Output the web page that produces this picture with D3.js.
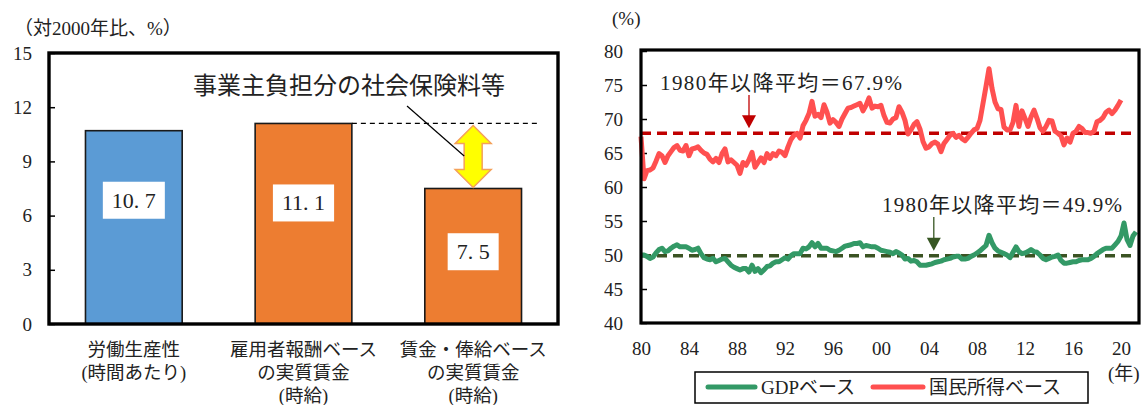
<!DOCTYPE html>
<html>
<head>
<meta charset="utf-8">
<script src="https://cdn.jsdelivr.net/npm/d3@7"></script>
<style>
  html, body { margin: 0; padding: 0; background: #fff; }
  svg { display: block; }
  text { font-family: "Liberation Serif", "DejaVu Serif", "Noto Sans CJK JP", serif; fill: #222; }
</style>
</head>
<body>
<svg id="chart" width="1145" height="405"></svg>
<script>
// ---- Left panel: growth since 2000 (%) ----
const barCategories = [
  ["労働生産性", "(時間あたり)"],
  ["雇用者報酬ベース", "の実質賃金", "(時給)"],
  ["賃金・俸給ベース", "の実質賃金", "(時給)"]
];
const barValues = [10.7, 11.1, 7.5];
const barColors = ["#5B9BD5", "#ED7D31", "#ED7D31"];
const barTicks = [0, 3, 6, 9, 12, 15];
const barTitle = "（対2000年比、%）";
const gapNote = "事業主負担分の社会保険料等";

// ---- Right panel: labour share (%), quarterly from 1980Q1 ----
const startYear = 1980;
const gdpShare = [
  50.0, 50.0, 49.8, 49.5, 49.7, 50.3, 50.8, 51.0, 50.5, 50.6, 51.0, 51.3, 51.5, 51.2, 51.2, 51.2,
  51.0, 50.7, 50.8, 51.0, 50.2, 49.6, 49.4, 49.3, 49.5, 49.0, 49.2, 49.4, 49.5, 49.0, 48.5, 48.2,
  48.0, 47.8, 48.0, 48.0, 47.5, 48.5, 47.6, 48.0, 47.4, 47.8, 48.3, 48.4, 48.8, 49.0, 49.0, 49.3,
  49.6, 49.4, 49.9, 50.2, 50.2, 50.2, 51.0, 50.9, 51.2, 51.8, 51.2, 51.7, 51.0, 51.0, 51.0, 50.7,
  50.6, 50.5, 50.7, 51.0, 51.3, 51.4, 51.5, 51.7, 51.7, 51.8, 51.2, 51.4, 51.3, 51.2, 51.2, 51.0,
  50.7, 50.6, 50.5, 50.4, 50.2, 50.5, 50.3, 50.0, 49.4, 49.5, 49.1, 49.2, 49.0, 48.5, 48.5, 48.5,
  48.6, 48.7, 48.9, 49.0, 49.1, 49.3, 49.4, 49.5, 49.7, 49.8, 49.8, 49.4, 49.4, 49.5, 49.8, 50.0,
  50.3, 50.6, 51.0, 51.4, 52.9, 51.8, 51.0, 50.6, 50.4, 50.2, 50.0, 49.6, 50.4, 51.2, 50.5, 50.2,
  50.3, 50.5, 50.8, 50.5, 50.4, 50.0, 49.5, 49.3, 49.5, 49.7, 49.8, 50.0, 49.2, 48.8, 48.8, 48.9,
  49.0, 49.0, 49.2, 49.3, 49.3, 49.3, 49.5, 49.8, 50.2, 50.5, 50.8, 51.0, 51.0, 51.0, 51.5, 52.0,
  52.8, 54.7, 52.3, 51.4, 52.8, 53.4
];
const niShare = [
  67.4, 61.2, 62.4, 62.5, 62.8, 63.8, 64.9, 64.6, 63.6, 64.6, 65.2, 65.8, 66.1, 65.4, 65.3, 66.1,
  64.6, 65.6, 65.7, 65.9, 65.4, 65.0, 64.8, 64.1, 63.7, 64.2, 63.6, 64.9, 65.6, 63.7, 64.0, 63.6,
  63.2, 62.0, 63.6, 63.2, 64.0, 65.1, 62.9, 63.6, 64.3, 63.6, 64.9, 64.2, 64.9, 64.6, 65.3, 65.1,
  64.6, 65.9, 67.0, 67.6, 67.9, 67.2, 69.0, 69.8, 70.8, 72.6, 70.4, 70.7, 70.2, 72.1, 71.0, 69.4,
  69.9, 69.5, 68.9, 70.0, 70.8, 71.6, 71.7, 71.9, 72.1, 72.3, 71.2, 72.0, 73.1, 71.6, 71.9, 71.8,
  72.0, 70.5, 69.5, 69.4, 70.0, 70.2, 71.8, 71.0, 69.8, 67.8, 68.4, 69.2, 69.6, 68.5, 66.7, 65.7,
  65.9, 66.4, 66.6, 66.3, 65.2, 66.4, 67.0, 67.6, 67.9, 67.3, 67.6, 67.1, 66.8, 67.3, 67.9, 68.4,
  68.6, 69.8, 72.3, 74.8, 77.4, 74.5, 72.5, 71.5, 71.4, 68.8, 68.4, 68.4, 69.5, 72.0, 68.9, 71.2,
  70.1, 68.9, 70.3, 71.3, 70.1, 68.7, 68.2, 68.9, 69.8, 69.7, 68.2, 67.9, 67.5, 66.2, 67.2, 66.6,
  67.9, 68.2, 68.9, 68.6, 68.0, 68.0, 67.9, 68.2, 69.6, 69.8, 70.2, 71.0, 71.3, 70.8, 71.3, 72.0,
  72.8
];
const gdpMean = 49.9;
const niMean = 67.9;
const lineTicksY = [40, 45, 50, 55, 60, 65, 70, 75, 80];
const lineTicksX = [1980, 1984, 1988, 1992, 1996, 2000, 2004, 2008, 2012, 2016, 2020];
const seriesNames = ["GDPベース", "国民所得ベース"];
const meanLabel = v => "1980年以降平均＝" + v.toFixed(1) + "%";

const svg = d3.select("#chart");
const SERIF = '"Liberation Serif", "DejaVu Serif", "Noto Sans CJK JP", serif';

// ================= Left panel =================
const L = { left: 49, right: 558, top: 53, bottom: 324 };
const xb = d3.scaleBand().domain(d3.range(barValues.length))
  .range([L.left, L.right]).paddingInner(0.43).paddingOuter(0.215);
const yb = d3.scaleLinear().domain([0, 15]).range([L.bottom, L.top]);

const gL = svg.append("g");

gL.append("g")
  .attr("transform", `translate(${L.left},0)`)
  .call(d3.axisLeft(yb).tickValues(barTicks).tickSize(-6).tickPadding(17))
  .call(g => g.select(".domain").remove())
  .call(g => g.selectAll(".tick line").attr("stroke", "#000").attr("stroke-width", 1.5))
  .call(g => g.selectAll(".tick text").attr("font-family", SERIF).attr("font-size", 19).attr("fill", "#222"));

gL.append("text")
  .attr("x", 14).attr("y", 28)
  .attr("dominant-baseline", "central")
  .attr("font-size", 19)
  .text(barTitle);

// bars
gL.selectAll("rect.bar").data(barValues).join("rect")
  .attr("class", "bar")
  .attr("x", (d, i) => xb(i))
  .attr("width", xb.bandwidth())
  .attr("y", d => yb(d))
  .attr("height", d => yb(0) - yb(d))
  .attr("fill", (d, i) => barColors[i])
  .attr("stroke", "#1a1a1a").attr("stroke-width", 1.6);

// value labels on white boxes
const labelAnchor = [6.85, 6.7, 4.0];
const lab = gL.selectAll("g.vlab").data(barValues).join("g").attr("class", "vlab");
lab.append("rect").attr("fill", "#fff");
lab.append("text")
  .attr("x", (d, i) => xb(i) + xb.bandwidth() / 2)
  .attr("y", (d, i) => yb(labelAnchor[i]))
  .attr("text-anchor", "middle")
  .attr("dominant-baseline", "central")
  .attr("font-size", 22)
  .text(d => d3.format(".1f")(d).replace(".", ". "));
lab.each(function () {
  const t = d3.select(this).select("text").node().getBBox();
  d3.select(this).select("rect")
    .attr("x", t.x - 9).attr("width", t.width + 18)
    .attr("y", t.y + t.height / 2 - 18.5).attr("height", 37);
});

// dashed reference from second bar top
gL.append("line")
  .attr("x1", xb(1) + xb.bandwidth()).attr("x2", 540)
  .attr("y1", yb(barValues[1])).attr("y2", yb(barValues[1]))
  .attr("stroke", "#000").attr("stroke-width", 1.2).attr("stroke-dasharray", "5,4");

// yellow double arrow for the gap between bar 2 and bar 3
{
  const cx = xb(2) + xb.bandwidth() / 2;
  const yt = yb(barValues[1]) + 2, ybt = yb(barValues[2]) - 1;
  const hw = 18, sw = 9, hl = 18;
  const p = [
    [cx, yt], [cx + hw, yt + hl], [cx + sw, yt + hl], [cx + sw, ybt - hl], [cx + hw, ybt - hl],
    [cx, ybt], [cx - hw, ybt - hl], [cx - sw, ybt - hl], [cx - sw, yt + hl], [cx - hw, yt + hl]
  ];
  gL.append("path").attr("d", d3.line()(p) + "Z")
    .attr("fill", "#FFFF00").attr("stroke", "#F4A15A").attr("stroke-width", 1.5)
    .attr("stroke-linejoin", "miter");
  // leader line to the note
  gL.append("line")
    .attr("x1", 407).attr("y1", 106).attr("x2", cx - sw).attr("y2", 156)
    .attr("stroke", "#000").attr("stroke-width", 1.2);
}

gL.append("text")
  .attr("x", 193).attr("y", 86)
  .attr("dominant-baseline", "central")
  .attr("font-size", 24).attr("fill", "#333")
  .text(gapNote);

// frame
gL.append("rect")
  .attr("x", L.left).attr("y", L.top)
  .attr("width", L.right - L.left).attr("height", L.bottom - L.top)
  .attr("fill", "none").attr("stroke", "#000").attr("stroke-width", 3.4);

// category labels
barCategories.forEach((lines, i) => {
  const t = gL.append("text")
    .attr("text-anchor", "middle").attr("font-size", 18.5).attr("fill", "#333");
  lines.forEach((s, k) => {
    t.append("tspan")
      .attr("x", xb(i) + xb.bandwidth() / 2)
      .attr("y", 350 + k * 23)
      .attr("dominant-baseline", "central")
      .text(s);
  });
});

// ================= Right panel =================
const R = { left: 641, right: 1139, top: 50, bottom: 323 };
const xt = d3.scaleLinear().domain([1980, 2021.5]).range([R.left, R.right]);
const yt = d3.scaleLinear().domain([40, 80]).range([R.bottom, 51]);
const gR = svg.append("g");

gR.append("g")
  .attr("transform", `translate(${R.left},0)`)
  .call(d3.axisLeft(yt).tickValues(lineTicksY).tickSize(-6).tickPadding(18))
  .call(g => g.select(".domain").remove())
  .call(g => g.selectAll(".tick line").attr("stroke", "#000").attr("stroke-width", 1.5))
  .call(g => g.selectAll(".tick text").attr("font-family", SERIF).attr("font-size", 19).attr("fill", "#222"));

gR.append("g")
  .attr("transform", `translate(0,${R.bottom})`)
  .call(d3.axisBottom(xt).tickValues(lineTicksX).tickSize(0).tickFormat(d => d3.format("02d")(d % 100)))
  .call(g => g.select(".domain").remove())
  .call(g => g.selectAll(".tick text")
    .attr("font-family", SERIF).attr("font-size", 19).attr("fill", "#222")
    .attr("y", 25).attr("dy", null).attr("dominant-baseline", "central"));

gR.append("text").attr("x", 612).attr("y", 18)
  .attr("dominant-baseline", "central").attr("font-size", 19).text("(%)");
gR.append("text").attr("x", 1108).attr("y", 373)
  .attr("dominant-baseline", "central").attr("font-size", 19).text("(年)");

const qx = (d, i) => xt(startYear + i / 4);
const line = d3.line().x(qx).y(d => yt(d));

// mean lines
gR.append("line")
  .attr("x1", xt(1980)).attr("x2", R.right - 2)
  .attr("y1", yt(niMean)).attr("y2", yt(niMean))
  .attr("stroke", "#C00000").attr("stroke-width", 3.4).attr("stroke-dasharray", "10,6");
gR.append("line")
  .attr("x1", xt(1980)).attr("x2", R.right - 2)
  .attr("y1", yt(gdpMean)).attr("y2", yt(gdpMean))
  .attr("stroke", "#3B5323").attr("stroke-width", 3.4).attr("stroke-dasharray", "10,6");

// series
gR.append("path").datum(niShare)
  .attr("d", line).attr("fill", "none")
  .attr("stroke", "#FF5050").attr("stroke-width", 5).attr("stroke-linejoin", "round");
gR.append("path").datum(gdpShare)
  .attr("d", line).attr("fill", "none")
  .attr("stroke", "#339966").attr("stroke-width", 5).attr("stroke-linejoin", "round");

// mean annotations
function meanNote(value, color, arrowColor, textX, textY, textW, arrowYear, arrowTop) {
  gR.append("text")
    .attr("x", textX).attr("y", textY)
    .attr("dominant-baseline", "central")
    .attr("font-size", 21).attr("fill", color)
    .attr("textLength", textW).attr("lengthAdjust", "spacing")
    .text(meanLabel(value));
  const ax = xt(arrowYear), tip = yt(value) - 5;
  gR.append("line")
    .attr("x1", ax).attr("x2", ax).attr("y1", arrowTop).attr("y2", tip - 12)
    .attr("stroke", arrowColor).attr("stroke-width", 1.3);
  gR.append("path")
    .attr("d", d3.line()([[ax - 7, tip - 13], [ax + 7, tip - 13], [ax, tip]]) + "Z")
    .attr("fill", arrowColor);
}
meanNote(niMean, "#C8282E", "#C00000", 660, 83, 242, 1989.0, 95);
meanNote(gdpMean, "#55703A", "#375623", 882, 205, 240, 2004.4, 217);

// legend
const lg = gR.append("g");
lg.append("rect").attr("x", 695).attr("y", 372).attr("width", 393).attr("height", 31)
  .attr("fill", "#fff").attr("stroke", "#000").attr("stroke-width", 1.5);
const legendItems = [
  { name: seriesNames[0], color: "#339966", x0: 708, x1: 755 },
  { name: seriesNames[1], color: "#FF5050", x0: 873, x1: 923 }
];
legendItems.forEach(it => {
  lg.append("line").attr("x1", it.x0).attr("x2", it.x1).attr("y1", 387).attr("y2", 387)
    .attr("stroke", it.color).attr("stroke-width", 5).attr("stroke-linecap", "round");
  lg.append("text").attr("x", it.x1 + 6).attr("y", 387)
    .attr("dominant-baseline", "central").attr("font-size", 19).attr("fill", "#222")
    .text(it.name);
});

// frame
gR.append("rect")
  .attr("x", R.left).attr("y", R.top)
  .attr("width", R.right - R.left).attr("height", R.bottom - R.top)
  .attr("fill", "none").attr("stroke", "#000").attr("stroke-width", 3.2);
</script>
</body>
</html>
